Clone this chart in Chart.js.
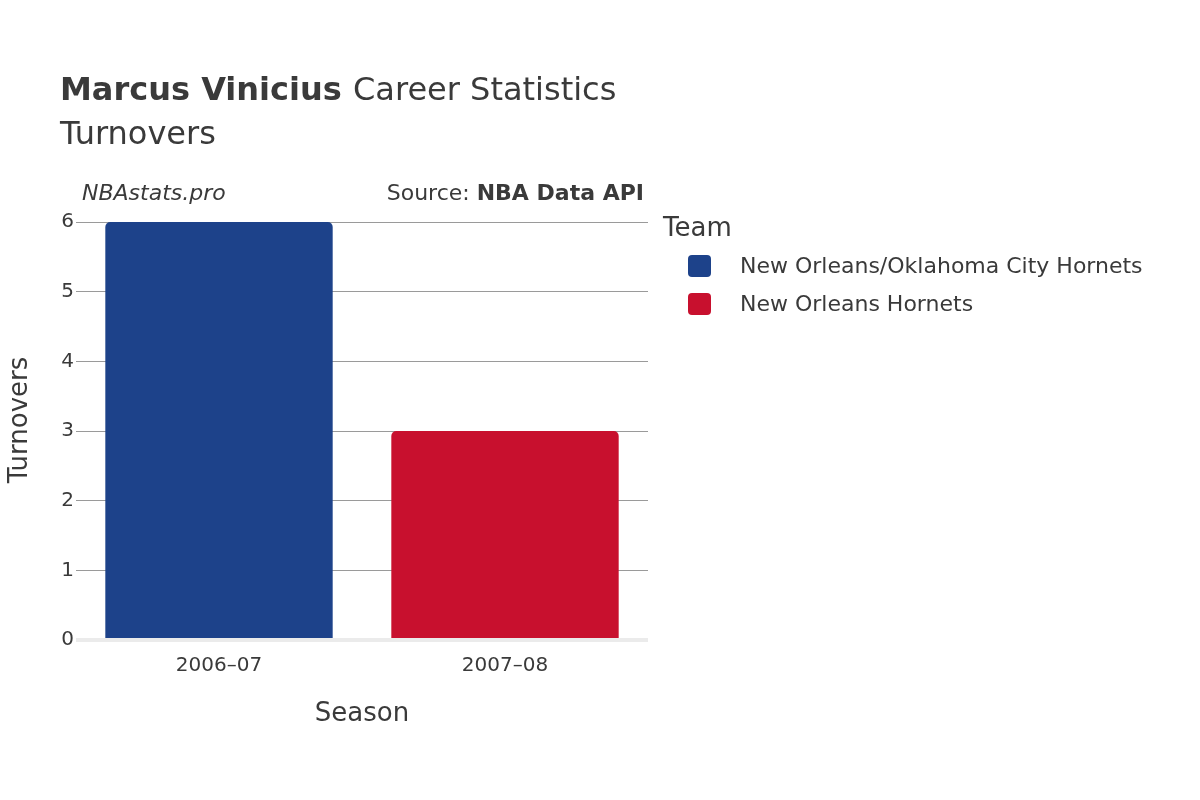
<!DOCTYPE html>
<html>
<head>
<meta charset="utf-8">
<script src="https://cdn.jsdelivr.net/npm/chart.js@4"></script>
<style>
  body { margin: 0; background: #fff; }
  #wrap { width: 1200px; height: 800px; }
</style>
</head>
<body>
<div id="wrap"><canvas id="chart" width="1200" height="800"></canvas></div>
<script>
/* Data */
var seasons = ['2006\u201307', '2007\u201308'];
var teams = ['New Orleans/Oklahoma City Hornets', 'New Orleans Hornets'];
var teamColors = ['#1d428a', '#c8102e'];
var turnoversOkc = [6, null];
var turnoversNoh = [null, 3];
var yTicks = [0, 1, 2, 3, 4, 5, 6];

var FONT = '"DejaVu Sans", "Noto Sans", sans-serif';
var TEXT = '#3a3a3a';

/* Titles, source line, axis titles and legend drawn on the canvas */
var decorations = {
  id: 'decorations',
  afterDraw: function(chart) {
    var ctx = chart.ctx;
    ctx.save();
    ctx.fillStyle = TEXT;
    ctx.textBaseline = 'alphabetic';
    ctx.textAlign = 'left';

    ctx.font = 'bold 32px ' + FONT;
    ctx.fillText('Marcus Vinicius', 60, 100);
    var w = ctx.measureText('Marcus Vinicius ').width;
    ctx.font = '32px ' + FONT;
    ctx.fillText('Career Statistics', 60 + w, 100);
    ctx.fillText('Turnovers', 60, 144);

    ctx.font = 'italic 22px ' + FONT;
    ctx.fillText('NBAstats.pro', 82, 200);
    ctx.textAlign = 'right';
    ctx.font = 'bold 22px ' + FONT;
    ctx.fillText('NBA Data API', 644, 200);
    var bw = ctx.measureText('NBA Data API').width;
    ctx.font = '22px ' + FONT;
    ctx.fillText('Source: ', 644 - bw, 200);

    ctx.textAlign = 'center';
    ctx.font = '26px ' + FONT;
    ctx.fillText('Season', 362, 721);
    ctx.save();
    ctx.translate(27, 420);
    ctx.rotate(-Math.PI / 2);
    ctx.fillText('Turnovers', 0, 0);
    ctx.restore();

    // legend
    ctx.textAlign = 'left';
    ctx.font = '26px ' + FONT;
    ctx.fillText('Team', 663, 236);
    ctx.font = '22px ' + FONT;
    chart.data.datasets.forEach(function(ds, i) {
      var y = 266 + i * 38;
      ctx.fillStyle = ds.backgroundColor;
      ctx.beginPath();
      ctx.roundRect(688, y - 11, 23, 22, 4);
      ctx.fill();
      ctx.fillStyle = TEXT;
      ctx.textBaseline = 'middle';
      ctx.fillText(ds.label, 740, y + 1);
    });
    ctx.restore();
  }
};

new Chart(document.getElementById('chart'), {
  type: 'bar',
  data: {
    labels: seasons,
    datasets: [
      { label: teams[0], data: turnoversOkc, backgroundColor: teamColors[0] },
      { label: teams[1], data: turnoversNoh, backgroundColor: teamColors[1] }
    ]
  },
  options: {
    responsive: false,
    animation: false,
    skipNull: true,
    layout: { padding: { top: 222, right: 552, left: 0, bottom: 0 } },
    datasets: { bar: { barPercentage: 0.795, categoryPercentage: 1, borderRadius: 5, borderSkipped: 'bottom' } },
    plugins: { legend: { display: false }, tooltip: { enabled: false } },
    scales: {
      x: {
        afterFit: function(s) { s.height = 160; },
        grid: { display: false },
        border: { display: false },
        ticks: { color: TEXT, font: { family: FONT, size: 20 }, padding: 6 }
      },
      y: {
        min: 0, max: 6,
        afterFit: function(s) { s.width = 76; },
        afterBuildTicks: function(s) { s.ticks = yTicks.map(function(v) { return { value: v }; }); },
        grid: {
          drawTicks: true, tickLength: 0,
          color: function(c) { return c.tick.value === 0 ? '#ebebeb' : '#9a9a9a'; },
          lineWidth: function(c) { return c.tick.value === 0 ? 4 : 1; }
        },
        border: { display: false },
        ticks: { color: TEXT, font: { family: FONT, size: 20 }, padding: 2 }
      }
    }
  },
  plugins: [decorations]
});
</script>
</body>
</html>
